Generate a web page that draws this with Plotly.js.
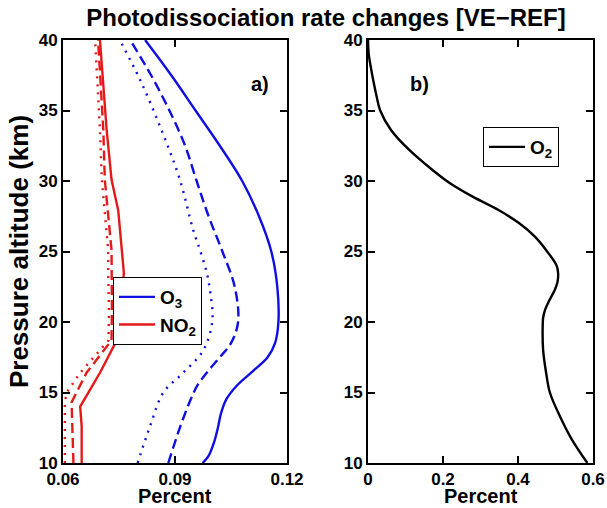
<!DOCTYPE html>
<html>
<head>
<meta charset="utf-8">
<script src="https://cdn.plot.ly/plotly-3.0.1.min.js"></script>
<style>html,body{margin:0;padding:0;background:#fff;}#chart{width:607px;height:508px;}</style>
</head>
<body>
<div id="chart"></div>
<script>
// ---- Data ----
// Panel a): O3 and NO2 photodissociation rate changes (percent) vs pressure altitude (km)
const o3SolidAlt = [10, 10.5, 11.5, 12.5, 13.5, 14.5, 15.5, 16.5, 17.5, 18.5, 20, 22.5, 25, 27.5, 30, 32.5, 35, 37.5, 40];
const o3SolidVal = [0.0974, 0.0990, 0.1005, 0.1015, 0.1023, 0.1037, 0.1066, 0.1108, 0.1148, 0.1168, 0.1177, 0.1174, 0.1158, 0.1125, 0.1080, 0.1020, 0.0955, 0.0890, 0.0820];

const o3DashAlt = [10, 12.5, 14.5, 15.5, 16.5, 17.5, 18.5, 20, 22.5, 25, 27.5, 30, 32.5, 35, 37.5, 40];
const o3DashVal = [0.0882, 0.0913, 0.0942, 0.0960, 0.0988, 0.1020, 0.1050, 0.1069, 0.1060, 0.1027, 0.0990, 0.0958, 0.0927, 0.0885, 0.0836, 0.0780];

const o3DotAlt = [10, 12.6, 15.0, 16.4, 18.0, 20.1, 22.0, 23.5, 25.1, 26.5, 30.1, 33.6, 37.2, 40];
const o3DotVal = [0.0800, 0.0833, 0.0869, 0.0922, 0.0976, 0.1000, 0.0995, 0.0985, 0.0967, 0.0949, 0.0913, 0.0864, 0.0806, 0.0752];

const no2SolidAlt = [10, 12.6, 14.0, 16.4, 18.7, 21.0, 23.5, 25.1, 27.9, 30.1, 33.6, 40];
const no2SolidVal = [0.0650, 0.0650, 0.0646, 0.0699, 0.0744, 0.0755, 0.0763, 0.0757, 0.0748, 0.0730, 0.0717, 0.0699];

const no2DashAlt = [10, 14.3, 16.4, 18.7, 21.0, 23.5, 25.1, 30.1, 33.6, 40];
const no2DashVal = [0.0628, 0.0623, 0.0663, 0.0730, 0.0731, 0.0730, 0.0730, 0.0712, 0.0708, 0.0694];

const no2DotAlt = [10, 14.3, 15.0, 16.4, 18.7, 21.0, 23.5, 25.1, 30.1, 33.6, 40];
const no2DotVal = [0.0605, 0.0605, 0.0610, 0.0646, 0.0722, 0.0723, 0.0721, 0.0721, 0.0704, 0.0699, 0.0686];

// Panel b): O2
const o2Alt = [10, 11.7, 13.3, 15.0, 16.4, 18.0, 19.9, 20.3, 20.85, 21.4, 22.27, 22.8, 23.45, 24.0, 25.11, 26.05, 27.0, 27.94, 28.89, 29.84, 30.78, 32.2, 33.62, 35.04, 36, 37, 38, 39, 40];
const o2Val = [0.585, 0.543, 0.512, 0.485, 0.475, 0.467, 0.466, 0.467, 0.472, 0.481, 0.498, 0.505, 0.507, 0.503, 0.4747, 0.445, 0.4035, 0.348, 0.279, 0.2187, 0.172, 0.110, 0.0613, 0.032, 0.023, 0.015, 0.008, 0.002, 0.000];

// Tick labels
const xTicksA = [0.06, 0.09, 0.12];
const xTickTextA = ['0.06', '0.09', '0.12'];
const xTicksB = [0, 0.2, 0.4, 0.6];
const xTickTextB = ['0', '0.2', '0.4', '0.6'];
const yTicks = [10, 15, 20, 25, 30, 35, 40];

// ---- Styles ----
const BLUE = 'rgb(15,15,225)';
const RED = 'rgb(228,25,25)';
const FONT = 'Liberation Sans, Arial, sans-serif';
const LW = 2.4;

const traces = [
  {x: o3DotVal, y: o3DotAlt, xaxis: 'x', yaxis: 'y', mode: 'lines', showlegend: false,
   line: {color: BLUE, width: LW, dash: '2px,6px', shape: 'spline', smoothing: 1}},
  {x: o3DashVal, y: o3DashAlt, xaxis: 'x', yaxis: 'y', mode: 'lines', showlegend: false,
   line: {color: BLUE, width: LW, dash: '10px,5px', shape: 'spline', smoothing: 1}},
  {x: no2DotVal, y: no2DotAlt, xaxis: 'x', yaxis: 'y', mode: 'lines', showlegend: false,
   line: {color: RED, width: LW, dash: '2px,6px'}},
  {x: no2DashVal, y: no2DashAlt, xaxis: 'x', yaxis: 'y', mode: 'lines', showlegend: false,
   line: {color: RED, width: LW, dash: '10px,5px'}},
  {x: o3SolidVal, y: o3SolidAlt, xaxis: 'x', yaxis: 'y', mode: 'lines', name: 'O<sub>3</sub>', legend: 'legend',
   line: {color: BLUE, width: LW, shape: 'spline', smoothing: 1}},
  {x: no2SolidVal, y: no2SolidAlt, xaxis: 'x', yaxis: 'y', mode: 'lines', name: 'NO<sub>2</sub>', legend: 'legend',
   line: {color: RED, width: LW}},
  {x: o2Val, y: o2Alt, xaxis: 'x2', yaxis: 'y2', mode: 'lines', name: 'O<sub>2</sub>', legend: 'legend2',
   line: {color: 'black', width: LW, shape: 'spline', smoothing: 1}}
];

const tickFont = {family: FONT, size: 17, color: 'black', weight: 'bold'};
const xTitleFont = {family: FONT, size: 20, color: 'black', weight: 'bold'};
const yTitleFont = {family: FONT, size: 26, color: 'black', weight: 'bold'};
const axisCommon = {
  showline: true, linewidth: 2, linecolor: 'black', mirror: 'ticks',
  ticks: 'inside', ticklen: 7, tickwidth: 2, tickcolor: 'black',
  showgrid: false, zeroline: false, tickfont: tickFont, fixedrange: true
};

const yTop = 1 - 40 / 508, yBot = 1 - 463 / 508;
const legendFont = {family: FONT, size: 19, color: 'black', weight: 'bold'};

const layout = {
  width: 607, height: 508,
  margin: {l: 0, r: 0, t: 0, b: 0},
  paper_bgcolor: 'white', plot_bgcolor: 'white',
  font: {family: FONT, color: 'black'},
  title: {text: 'Photodissociation rate changes [VE\u2212REF]', font: {family: FONT, size: 24, color: 'black', weight: 'bold'},
          x: 326 / 607, xanchor: 'center', y: 1 - 18 / 508, yanchor: 'middle', yref: 'paper'},
  xaxis: Object.assign({}, axisCommon, {
    domain: [63 / 607, 287 / 607], range: [0.06, 0.12], anchor: 'y',
    tickmode: 'array', tickvals: xTicksA, ticktext: xTickTextA
  }),
  yaxis: Object.assign({}, axisCommon, {
    domain: [yBot, yTop], range: [10, 40], anchor: 'x',
    tickmode: 'array', tickvals: yTicks,
    title: {text: 'Pressure altitude (km)', font: yTitleFont, standoff: 3}
  }),
  xaxis2: Object.assign({}, axisCommon, {
    domain: [368 / 607, 593 / 607], range: [0, 0.6], anchor: 'y2',
    tickmode: 'array', tickvals: xTicksB, ticktext: xTickTextB
  }),
  yaxis2: Object.assign({}, axisCommon, {
    domain: [yBot, yTop], range: [10, 40], anchor: 'x2',
    tickmode: 'array', tickvals: yTicks
  }),
  legend: {
    x: 113 / 607, y: 1 - 277 / 508, xref: 'paper', yref: 'paper', xanchor: 'left', yanchor: 'top',
    bgcolor: 'white', bordercolor: 'black', borderwidth: 1, itemwidth: 36,
    font: legendFont, tracegroupgap: 0
  },
  legend2: {
    x: 483 / 607, y: 1 - 127 / 508, xref: 'paper', yref: 'paper', xanchor: 'left', yanchor: 'top',
    bgcolor: 'white', bordercolor: 'black', borderwidth: 1, itemwidth: 36,
    font: legendFont
  },
  annotations: [
    {text: 'a)', x: 0.1128, y: 36.9, xref: 'x', yref: 'y', showarrow: false,
     font: {family: FONT, size: 20, color: 'black', weight: 'bold'}},
    {text: 'b)', x: 0.136, y: 36.9, xref: 'x2', yref: 'y2', showarrow: false,
     font: {family: FONT, size: 20, color: 'black', weight: 'bold'}},
    {text: 'Percent', x: 0.5, xref: 'x domain', y: 1 - 496 / 508, yref: 'paper', yanchor: 'middle',
     showarrow: false, font: xTitleFont},
    {text: 'Percent', x: 0.5, xref: 'x2 domain', y: 1 - 496 / 508, yref: 'paper', yanchor: 'middle',
     showarrow: false, font: xTitleFont}
  ],
  showlegend: true
};

Plotly.newPlot('chart', traces, layout, {staticPlot: true, displayModeBar: false});
</script>
</body>
</html>
